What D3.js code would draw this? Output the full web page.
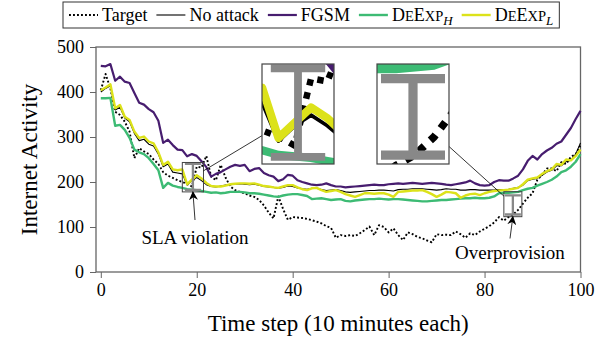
<!DOCTYPE html>
<html>
<head>
<meta charset="utf-8">
<script src="https://cdn.jsdelivr.net/npm/d3@7"></script>
<style>
  body { margin: 0; background: #fff; }
  svg { display: block; }
</style>
</head>
<body>
<div id="chart"></div>
<script>
// ---- data ----
const timeSteps = d3.range(0, 101);

const target = [404, 440, 408, 356, 349, 334, 312, 253, 275, 268,
  262, 250, 240, 222, 214, 209, 204, 200, 196, 190,
  234, 232, 258, 212, 204, 238, 210, 190, 182, 178,
  175, 170, 167, 160, 148, 132, 119, 168, 140, 116,
  122, 121, 120, 118, 115, 112, 108, 102, 98, 76,
  82, 80, 82, 80, 86, 93, 101, 82, 104, 100,
  88, 97, 82, 71, 88, 84, 78, 75, 70, 66,
  84, 82, 83, 82, 90, 84, 76, 86, 82, 90,
  96, 102, 110, 122, 114, 122, 128, 138, 152, 165,
  175, 205, 216, 230, 230, 224, 244, 240, 256, 262, 282];

const noAttack = [400, 408, 414, 360, 366, 342, 334, 308, 292, 295,
  284, 280, 262, 234, 240, 222, 220, 218, 193, 203,
  210, 203, 194, 190, 189, 191, 193, 194, 195, 196,
  195, 194, 195, 193, 190, 189, 188, 186, 188, 191,
  190, 187, 185, 184, 186, 186, 183, 181, 182, 183,
  181, 178, 177, 178, 179, 180, 181, 181, 182, 182,
  181, 180, 183, 184, 184, 185, 185, 185, 184, 183,
  182, 183, 185, 184, 184, 182, 182, 183, 183, 182,
  182, 182, 182, 183, 183, 184, 186, 188, 193, 203,
  206, 208, 215, 222, 226, 236, 236, 246, 248, 262, 287];

const fgsm = [458, 457, 462, 425, 434, 423, 420, 398, 376, 372,
  362, 355, 336, 287, 294, 282, 272, 271, 257, 262,
  258, 246, 233, 212, 218, 222, 228, 234, 238, 236,
  238, 224, 229, 231, 220, 215, 212, 202, 206, 216,
  214, 204, 200, 197, 194, 193, 194, 197, 193, 190,
  190, 188, 189, 190, 191, 192, 193, 194, 193, 193,
  195, 196, 197, 196, 197, 198, 197, 196, 197, 198,
  197, 196, 194, 193, 195, 197, 199, 203, 197, 193,
  192, 193, 200, 204, 203, 203, 208, 214, 228, 247,
  258, 250, 262, 270, 276, 285, 290, 305, 320, 340, 358];

const deexpH = [386, 386, 387, 325, 327, 316, 298, 272, 266, 262,
  253, 240, 226, 187, 198, 192, 189, 187, 184, 183,
  182, 180, 178, 176, 177, 175, 176, 178, 178, 178,
  177, 175, 175, 174, 172, 170, 168, 167, 170, 172,
  173, 173, 171, 169, 162, 163, 164, 162, 160, 161,
  162, 158, 157, 159, 160, 161, 162, 162, 163, 162,
  161, 162, 162, 161, 160, 159, 158, 157, 157, 158,
  159, 160, 160, 161, 162, 163, 164, 164, 165, 164,
  164, 165, 168, 175, 176, 176, 177, 178, 182, 185,
  187, 192, 196, 200, 205, 212, 222, 226, 234, 245, 262];

const deexpL = [404, 410, 417, 364, 371, 345, 338, 312, 298, 301,
  290, 286, 266, 238, 245, 228, 226, 228, 195, 205,
  215, 208, 198, 191, 190, 190, 192, 195, 196, 197,
  197, 196, 197, 194, 191, 190, 188, 187, 190, 193,
  193, 188, 184, 182, 186, 187, 182, 178, 180, 182,
  178, 173, 170, 167, 171, 175, 175, 174, 175, 175,
  172, 167, 178, 179, 180, 181, 181, 182, 178, 173,
  167, 172, 178, 177, 175, 165, 170, 173, 174, 171,
  175, 178, 180, 181, 182, 183, 185, 187, 195, 205,
  208, 210, 218, 224, 228, 240, 238, 250, 248, 258, 272];

const xTicks = [0, 20, 40, 60, 80, 100];
const yTicks = [0, 100, 200, 300, 400, 500];

// grey "I" marks: time step, low and high value
const gapMarks = [
  { t: 19.2, lo: 182.7, hi: 240.5 },
  { t: 85.9, lo: 127.8, hi: 170.4 }
];

// magnified spots: centre in data units, magnification, label
const spots = [
  { t: 19.2, v: 210.7, mag: 3.4, label: "SLA violation" },
  { t: 85.9, v: 150.7, mag: 4.0, label: "Overprovision" }
];

// ---- layout ----
const W = 611, H = 341;
const FONT = '"Liberation Serif", "Times New Roman", Times, serif';
const plot = { left: 96, right: 580.5, top: 47, bottom: 272 };
const insetW = 72, insetH = 100;
const insetPos = [{ x: 262, y: 64 }, { x: 377, y: 64 }];
const labelPos = [{ x: 195, y: 244, tail: 220 }, { x: 510, y: 259, tail: 238.5 }];

const seriesDefs = [
  { name: "Target", data: target, color: "#000", width: 1.9, dash: "1.9 2.1" },
  { name: "No attack", data: noAttack, color: "#000", width: 1.1 },
  { name: "FGSM", data: fgsm, color: "#471d6f", width: 2.2 },
  { name: "DeExpH", data: deexpH, color: "#3dbb74", width: 2.4 },
  { name: "DeExpL", data: deexpL, color: "#dce21a", width: 2.4 }
];

const svg = d3.select("#chart").append("svg")
  .attr("width", W).attr("height", H)
  .attr("font-family", FONT)
  .style("background", "#fff");

const x = d3.scaleLinear().domain([-1, 100]).range([plot.left, plot.right]);
const y = d3.scaleLinear().domain([0, 500]).range([plot.bottom, plot.top]);

const defs = svg.append("defs");
defs.append("marker")
  .attr("id", "arrow")
  .attr("viewBox", "0 0 10 10")
  .attr("refX", 9).attr("refY", 5)
  .attr("markerUnits", "userSpaceOnUse")
  .attr("markerWidth", 9).attr("markerHeight", 9)
  .attr("orient", "auto")
  .append("path").attr("d", "M0,0 L10,5 L0,10 L3,5 Z").attr("fill", "#000");

// axes
const xAxis = svg.append("g")
  .attr("transform", `translate(0,${plot.bottom})`)
  .call(d3.axisBottom(x).tickValues(xTicks).tickSize(6).tickSizeOuter(0).tickPadding(5));
const yAxis = svg.append("g")
  .attr("transform", `translate(${plot.left},0)`)
  .call(d3.axisLeft(y).tickValues(yTicks).tickSize(6).tickSizeOuter(0).tickPadding(6));
[xAxis, yAxis].forEach(a => {
  a.attr("font-family", FONT).attr("font-size", 18);
  a.select(".domain").remove();
  a.selectAll(".tick line").attr("stroke", "#666").attr("stroke-width", 1);
  a.selectAll(".tick text").style("font-family", FONT).style("font-size", "18px").attr("fill", "#000");
});

svg.append("rect")
  .attr("x", plot.left).attr("y", plot.top)
  .attr("width", plot.right - plot.left).attr("height", plot.bottom - plot.top)
  .attr("fill", "none").attr("stroke", "#666").attr("stroke-width", 1.3);

const line = d3.line()
  .x((d, i) => x(timeSteps[i]))
  .y(d => y(d));

// draws all marks, used for the plot and again for each zoomed inset
function drawContent(g) {
  seriesDefs.forEach(s => {
    g.append("path")
      .datum(s.data)
      .attr("d", line)
      .attr("fill", "none")
      .attr("stroke", s.color)
      .attr("stroke-width", s.width)
      .attr("stroke-linejoin", "round")
      .attr("stroke-dasharray", s.dash || null);
  });
  gapMarks.forEach(m => {
    const cx = x(m.t), cap = 8;
    g.append("path")
      .attr("d", `M${cx},${y(m.lo)}V${y(m.hi)}M${cx - cap},${y(m.hi)}H${cx + cap}M${cx - cap},${y(m.lo)}H${cx + cap}`)
      .attr("fill", "none")
      .attr("stroke", "#888")
      .attr("stroke-width", 2.3);
  });
}

drawContent(svg.append("g"));

// spy boxes, connectors, insets, annotations
spots.forEach((sp, i) => {
  const bcx = x(sp.t), bcy = y(sp.v);
  const bw = insetW / sp.mag, bh = insetH / sp.mag;
  const ip = insetPos[i];
  const icx = ip.x + insetW / 2, icy = ip.y + insetH / 2;

  svg.append("rect")
    .attr("x", bcx - bw / 2).attr("y", bcy - bh / 2)
    .attr("width", bw).attr("height", bh)
    .attr("fill", "none").attr("stroke", "#444").attr("stroke-width", 1);

  const dx = icx - bcx, dy = icy - bcy;
  const s1 = Math.min(bw / 2 / Math.abs(dx), bh / 2 / Math.abs(dy));
  const s2 = 1 - Math.min(insetW / 2 / Math.abs(dx), insetH / 2 / Math.abs(dy));
  svg.append("line")
    .attr("x1", bcx + dx * s1).attr("y1", bcy + dy * s1)
    .attr("x2", bcx + dx * s2).attr("y2", bcy + dy * s2)
    .attr("stroke", "#000").attr("stroke-width", 0.8);

  defs.append("clipPath").attr("id", "inset" + i)
    .append("rect").attr("x", ip.x).attr("y", ip.y).attr("width", insetW).attr("height", insetH);
  const ig = svg.append("g").attr("clip-path", `url(#inset${i})`);
  ig.append("rect").attr("x", ip.x).attr("y", ip.y).attr("width", insetW).attr("height", insetH).attr("fill", "#fff");
  drawContent(ig.append("g")
    .attr("transform", `translate(${icx},${icy}) scale(${sp.mag}) translate(${-bcx},${-bcy})`));
  svg.append("rect")
    .attr("x", ip.x).attr("y", ip.y).attr("width", insetW).attr("height", insetH)
    .attr("fill", "none").attr("stroke", "#444").attr("stroke-width", 1.2);

  const lp = labelPos[i];
  svg.append("line")
    .attr("x1", lp.x).attr("y1", lp.tail)
    .attr("x2", bcx).attr("y2", bcy + bh / 2)
    .attr("stroke", "#000").attr("stroke-width", 0.8)
    .attr("marker-end", "url(#arrow)");
  svg.append("text")
    .attr("x", lp.x).attr("y", lp.y)
    .attr("text-anchor", "middle")
    .style("font-family", FONT)
    .style("font-size", "19px")
    .text(sp.label);
});

// axis titles
svg.append("text")
  .attr("x", (plot.left + plot.right) / 2).attr("y", 331)
  .attr("text-anchor", "middle")
  .style("font-family", FONT)
  .style("font-size", "23px")
  .text("Time step (10 minutes each)");
svg.append("text")
  .attr("transform", `translate(37,${(plot.top + plot.bottom) / 2}) rotate(-90)`)
  .attr("text-anchor", "middle")
  .style("font-family", FONT)
  .style("font-size", "23px")
  .text("Internet Activity");

// legend
const legendLabels = [
  [{ t: "Target" }],
  [{ t: "No attack" }],
  [{ t: "FGSM" }],
  [{ t: "D" }, { t: "E", sc: true }, { t: "E" }, { t: "XP", sc: true }, { t: "H", sub: true }],
  [{ t: "D" }, { t: "E", sc: true }, { t: "E" }, { t: "XP", sc: true }, { t: "L", sub: true }]
];
const lg = svg.append("g");
const legendBox = lg.append("rect");
let lx = 69;
const ly = 15;
seriesDefs.forEach((s, i) => {
  lg.append("line")
    .attr("x1", lx).attr("x2", lx + 29).attr("y1", ly).attr("y2", ly)
    .attr("stroke", s.color).attr("stroke-width", s.width)
    .attr("stroke-dasharray", s.dash || null);
  lx += 33;
  const t = lg.append("text").attr("x", lx).attr("y", ly + 6)
    .style("font-family", FONT).style("font-size", "18px");
  legendLabels[i].forEach(p => {
    const ts = t.append("tspan").text(p.t);
    if (p.sc) ts.style("font-size", "14.5px");
    if (p.sub) ts.style("font-size", "13px").style("font-style", "italic").attr("dy", 4);
  });
  lx += t.node().getComputedTextLength() + 9;
});
legendBox
  .attr("x", 63).attr("y", 2)
  .attr("width", lx - 63 - 3).attr("height", 26)
  .attr("fill", "#fff").attr("stroke", "#333").attr("stroke-width", 1);
</script>
</body>
</html>
